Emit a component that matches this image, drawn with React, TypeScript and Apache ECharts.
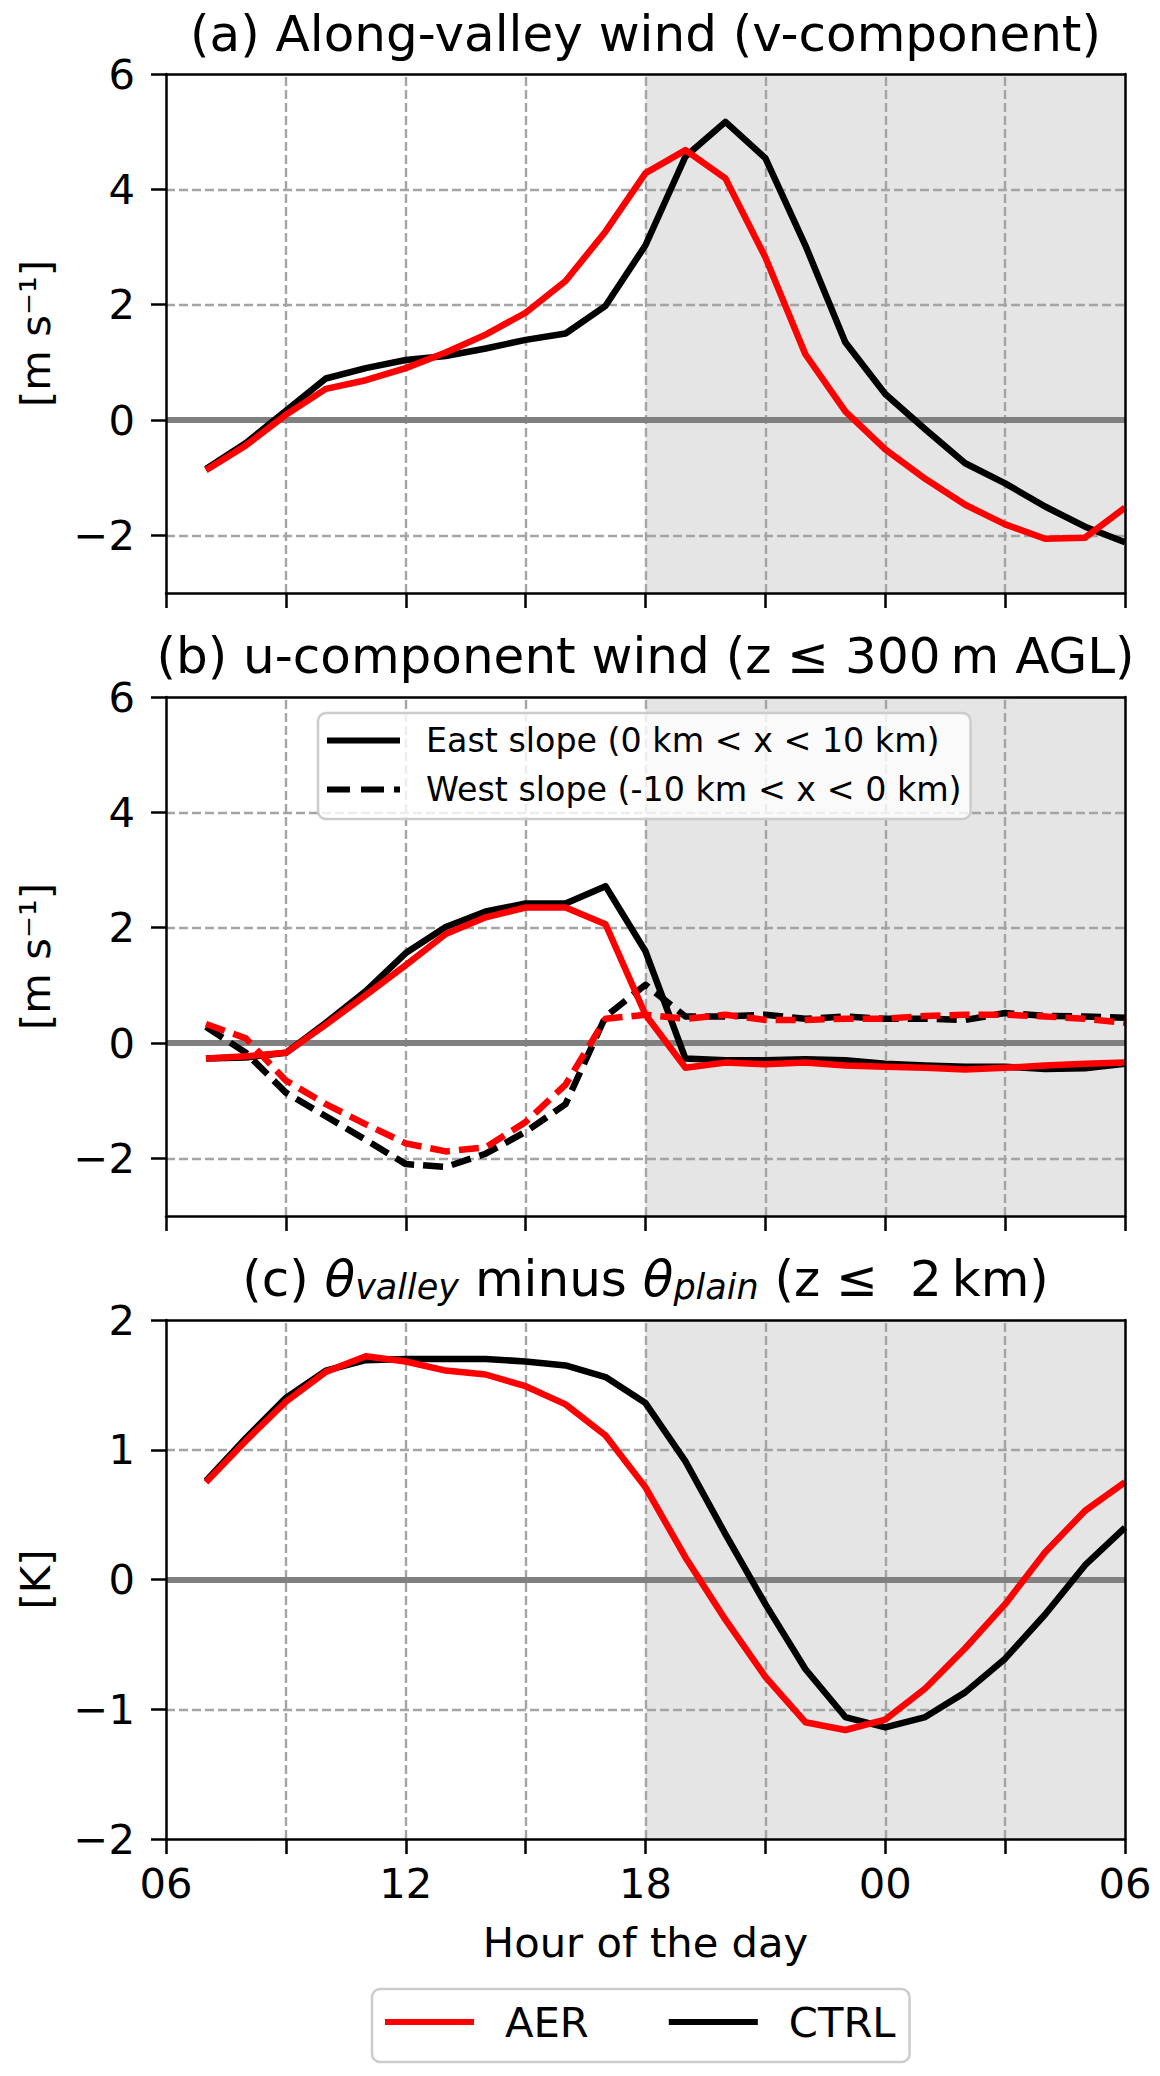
import React, { useEffect, useRef } from "react";
import * as echarts from "echarts";

const FONT = "DejaVu Sans";

// Hours since 06 LT (07 LT ... 06 LT next day)
const hours = [1, 2, 3, 4, 5, 6, 7, 8, 9, 10, 11, 12, 13, 14, 15, 16, 17, 18, 19, 20, 21, 22, 23, 24];
const xTicks = [0, 3, 6, 9, 12, 15, 18, 21, 24];
const xTickLabels = ["06", "", "12", "", "18", "", "00", "", "06"];

// (a) along-valley wind [m s-1]
const vAer = [-0.87, -0.44, 0.09, 0.54, 0.69, 0.9, 1.17, 1.48, 1.86, 2.41, 3.27, 4.28, 4.68, 4.19, 2.82, 1.14, 0.15, -0.51, -1.02, -1.47, -1.81, -2.06, -2.04, -1.52];
const vCtrl = [-0.85, -0.4, 0.16, 0.72, 0.9, 1.04, 1.11, 1.24, 1.39, 1.5, 1.98, 3.03, 4.57, 5.17, 4.54, 3.03, 1.35, 0.45, -0.16, -0.75, -1.1, -1.5, -1.85, -2.12];

// (b) u-component wind [m s-1]
const uEastAer = [-0.27, -0.23, -0.17, 0.32, 0.83, 1.35, 1.89, 2.18, 2.35, 2.35, 2.06, 0.49, -0.43, -0.34, -0.37, -0.34, -0.39, -0.41, -0.43, -0.46, -0.43, -0.39, -0.36, -0.34];
const uEastCtrl = [-0.27, -0.25, -0.17, 0.35, 0.9, 1.56, 2.01, 2.28, 2.42, 2.42, 2.72, 1.59, -0.27, -0.3, -0.3, -0.28, -0.3, -0.36, -0.39, -0.41, -0.41, -0.45, -0.44, -0.36];
const uWestAer = [0.33, 0.08, -0.65, -1.06, -1.41, -1.74, -1.88, -1.81, -1.37, -0.72, 0.42, 0.49, 0.42, 0.49, 0.4, 0.4, 0.42, 0.42, 0.47, 0.49, 0.49, 0.46, 0.42, 0.35];
const uWestCtrl = [0.28, -0.17, -0.86, -1.27, -1.68, -2.1, -2.15, -1.92, -1.54, -1.06, 0.46, 1.01, 0.46, 0.46, 0.49, 0.42, 0.46, 0.42, 0.42, 0.4, 0.52, 0.47, 0.46, 0.44];

// (c) theta_valley minus theta_plain [K]
const thetaAer = [0.75, 1.07, 1.37, 1.6, 1.72, 1.68, 1.61, 1.58, 1.49, 1.35, 1.11, 0.71, 0.17, -0.31, -0.75, -1.1, -1.16, -1.08, -0.84, -0.53, -0.19, 0.21, 0.53, 0.75];
const thetaCtrl = [0.76, 1.09, 1.4, 1.61, 1.69, 1.7, 1.7, 1.7, 1.68, 1.65, 1.56, 1.36, 0.91, 0.35, -0.19, -0.69, -1.06, -1.14, -1.06, -0.87, -0.61, -0.27, 0.11, 0.4];

const yTicksWind = [-2, 0, 2, 4, 6];
const yGridWind = [-2, 2, 4];
const yTicksTheta = [-2, -1, 0, 1, 2];
const yGridTheta = [-1, 1];
const xGrid = [3, 6, 9, 12, 15, 18, 21];
const nightShade = [12, 24];

const EAST = "East slope (0 km < x < 10 km)";
const WEST = "West slope (-10 km < x < 0 km)";
const RED = "#ff0000";
const BLACK = "#000000";

const GRID_TOPS = [74, 697, 1320];
const GRID_LEFT = 166;
const GRID_W = 959;
const GRID_H = 519;

const fmtY = (v: number) => (v < 0 ? "\u2212" + Math.abs(v) : String(v));

function buildOption() {
  const grid = GRID_TOPS.map((t) => ({
    left: GRID_LEFT,
    top: t,
    width: GRID_W,
    height: GRID_H,
    containLabel: false,
    outerBoundsMode: "none",
  }));

  const xAxis: any[] = [];
  const yAxis: any[] = [];
  const spine = { color: BLACK, width: 2.5 };
  for (let g = 0; g < 3; g++) {
    const isLast = g === 2;
    xAxis.push({
      gridIndex: g,
      type: "value",
      position: "bottom",
      min: 0,
      max: 24,
      interval: 3,
      z: 10,
      axisLine: { show: true, onZero: false, lineStyle: spine },
      axisTick: { show: true, length: 15, lineStyle: spine, customValues: xTicks },
      axisLabel: {
        show: isLast,
        customValues: xTicks,
        formatter: (v: number) => xTickLabels[xTicks.indexOf(v)] ?? "",
        margin: 23,
        fontSize: 41.7,
        fontFamily: FONT,
        color: BLACK,
        showMinLabel: true,
        showMaxLabel: true,
      },
      splitLine: { show: false },
      name: isLast ? "Hour of the day" : "",
      nameLocation: "middle",
      nameGap: 82,
      nameTextStyle: { fontSize: 41.7, fontFamily: FONT, color: BLACK },
    });
    xAxis.push({
      gridIndex: g,
      type: "value",
      position: "top",
      min: 0,
      max: 1,
      z: 10,
      axisLine: { show: true, onZero: false, lineStyle: spine },
      axisTick: { show: false },
      axisLabel: { show: false },
      splitLine: { show: false },
    });
    const ticks = isLast ? yTicksTheta : yTicksWind;
    yAxis.push({
      gridIndex: g,
      type: "value",
      position: "left",
      min: isLast ? -2 : -3,
      max: isLast ? 2 : 6,
      z: 10,
      axisLine: { show: true, onZero: false, lineStyle: spine },
      axisTick: { show: true, length: 15, lineStyle: spine, customValues: ticks },
      axisLabel: {
        customValues: ticks,
        formatter: fmtY,
        margin: 31,
        fontSize: 41.7,
        fontFamily: FONT,
        color: BLACK,
      },
      splitLine: { show: false },
      name: isLast ? "[K]" : "[m s\u207B\u00B9]",
      nameLocation: "middle",
      nameRotate: 90,
      nameGap: 110,
      nameTextStyle: { fontSize: 41.7, fontFamily: FONT, color: BLACK },
    });
    yAxis.push({
      gridIndex: g,
      type: "value",
      position: "right",
      min: 0,
      max: 1,
      z: 10,
      axisLine: { show: true, onZero: false, lineStyle: spine },
      axisTick: { show: false },
      axisLabel: { show: false },
      splitLine: { show: false },
    });
  }

  const series: any[] = [];
  const pts = (arr: number[]) => hours.map((h, i) => [h, arr[i]]);
  const line = (g: number, name: string, arr: number[], color: string, dashed: boolean) => ({
    type: "line",
    name,
    xAxisIndex: 2 * g,
    yAxisIndex: 2 * g,
    data: pts(arr),
    showSymbol: false,
    symbol: "none",
    color,
    itemStyle: { color },
    lineStyle: { color, width: 6.5, type: dashed ? [20, 9] : "solid", join: "round", cap: "butt" },
    z: 3,
    silent: true,
    emphasis: { disabled: true },
  });

  for (let g = 0; g < 3; g++) {
    const hLines = g === 2 ? yGridTheta : yGridWind;
    series.push({
      type: "line",
      name: "_bg" + g,
      xAxisIndex: 2 * g,
      yAxisIndex: 2 * g,
      data: [],
      silent: true,
      markArea: {
        silent: true,
        z: 0,
        itemStyle: { color: "#e5e5e5", borderWidth: 0 },
        label: { show: false },
        emphasis: { disabled: true },
        data: [[{ xAxis: nightShade[0] }, { xAxis: nightShade[1] }]],
      },
      markLine: {
        silent: true,
        z: 1,
        symbol: ["none", "none"],
        label: { show: false },
        emphasis: { disabled: true },
        lineStyle: { color: "#a4a4a4", width: 2.4, type: [9, 4] },
        data: [...xGrid.map((x) => ({ xAxis: x })), ...hLines.map((y) => ({ yAxis: y }))],
      },
    });
    series.push({
      type: "line",
      name: "_zero" + g,
      xAxisIndex: 2 * g,
      yAxisIndex: 2 * g,
      data: [],
      silent: true,
      markLine: {
        silent: true,
        z: 2,
        symbol: ["none", "none"],
        label: { show: false },
        emphasis: { disabled: true },
        lineStyle: { color: "#808080", width: 6, type: "solid" },
        data: [{ yAxis: 0 }],
      },
    });
  }

  series.push(line(0, "CTRL", vCtrl, BLACK, false));
  series.push(line(0, "AER", vAer, RED, false));
  series.push(line(1, "CTRL", uEastCtrl, BLACK, false));
  series.push(line(1, "CTRL", uWestCtrl, BLACK, true));
  series.push(line(1, "AER", uEastAer, RED, false));
  series.push(line(1, "AER", uWestAer, RED, true));
  series.push(line(2, "CTRL", thetaCtrl, BLACK, false));
  series.push(line(2, "AER", thetaAer, RED, false));
  series.push({ ...line(1, EAST, [], BLACK, false), data: [] });
  series.push({ ...line(1, WEST, [], BLACK, true), data: [] });

  const legendCommon = {
    selectedMode: false,
    backgroundColor: "rgba(255,255,255,0.8)",
    borderColor: "#cccccc",
    borderWidth: 2.5,
    borderRadius: 8,
    itemHeight: 6,
    itemStyle: { borderWidth: 0 },
    z: 12,
  };

  const legend = [
    {
      ...legendCommon,
      orient: "vertical",
      left: 318,
      top: 713,
      padding: [11, 9, 13, 9],
      itemGap: 16,
      itemWidth: 73,
      textStyle: { fontSize: 33.3, fontFamily: FONT, color: BLACK, padding: [0, 0, 0, 21] },
      data: [
        { name: EAST, icon: "rect" },
        { name: WEST, icon: "path://M0 0H23V6H0Z M34 0H57V6H34Z M67 0H73V6H67Z" },
      ],
    },
    {
      ...legendCommon,
      orient: "horizontal",
      left: 372,
      top: 1989,
      padding: [12, 14, 19, 13],
      itemGap: 80,
      itemWidth: 89,
      textStyle: { fontSize: 41.7, fontFamily: FONT, color: BLACK, padding: [0, 0, 0, 26] },
      data: [
        { name: "AER", icon: "rect" },
        { name: "CTRL", icon: "rect" },
      ],
    },
  ];

  const cx = GRID_LEFT + GRID_W / 2;
  const titleStyle = { fontSize: 50, fontFamily: FONT, fill: BLACK, align: "center", verticalAlign: "middle" };
  const graphic = [
    { type: "text", x: cx, y: 34, silent: true, style: { ...titleStyle, text: "(a) Along-valley wind (v-component)" } },
    { type: "text", x: cx, y: 656, silent: true, style: { ...titleStyle, text: "(b) u-component wind (z \u2264 300\u2009m AGL)" } },
    {
      type: "text",
      x: cx,
      y: 1279,
      silent: true,
      style: {
        ...titleStyle,
        lineHeight: 50,
        text: "(c) {it|\u03B8}{sub|valley} minus {it|\u03B8}{sub|plain} (z \u2264  2\u2009km)",
        rich: {
          it: { fontSize: 50, fontFamily: FONT, fontStyle: "italic", lineHeight: 50, verticalAlign: "middle" },
          sub: { fontSize: 35, fontFamily: FONT, fontStyle: "italic", lineHeight: 14, verticalAlign: "bottom" },
        },
      },
    },
  ];

  return {
    animation: false,
    backgroundColor: "#ffffff",
    textStyle: { fontFamily: FONT },
    grid,
    xAxis,
    yAxis,
    legend,
    graphic,
    series,
  };
}

export default function App() {
  const ref = useRef<HTMLDivElement>(null);
  useEffect(() => {
    document.body.style.margin = "0";
    if (!ref.current) return;
    const chart = echarts.init(ref.current, null, { renderer: "svg", width: 1160, height: 2076 });
    chart.setOption(buildOption() as any);
    return () => chart.dispose();
  }, []);
  return <div ref={ref} style={{ width: 1160, height: 2076, position: "absolute", left: 0, top: 0 }} />;
}
